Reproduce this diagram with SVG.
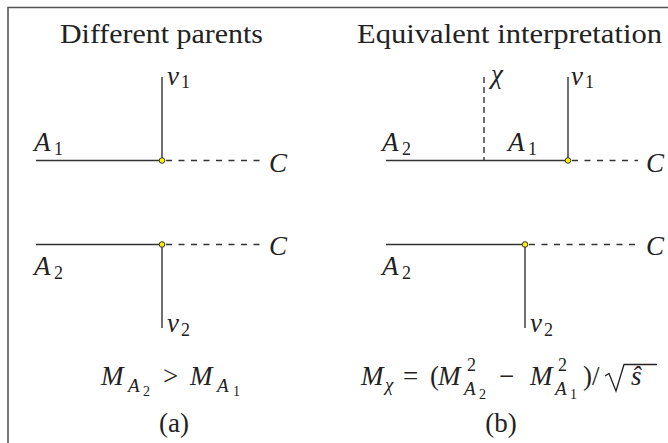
<svg xmlns="http://www.w3.org/2000/svg" width="668" height="443" viewBox="0 0 668 443">
<style>
.t{font-family:"Liberation Serif","Times New Roman",serif;fill:#222;font-size:27px}
.m{font-family:"Liberation Serif","Times New Roman",serif;fill:#222;font-size:27px;font-style:italic}
.s{font-size:18px;font-style:normal}
.si{font-size:19px;font-style:italic}
.ss{font-size:14px;font-style:normal}
.u{font-style:normal}
.ln{stroke:#333;stroke-width:1.4;fill:none}
.dl{stroke:#333;stroke-width:1.4;fill:none;stroke-dasharray:6 6.5}
.dot{fill:#ffee00;stroke:#333;stroke-width:1}
</style>
<rect x="0" y="0" width="668" height="443" fill="#fff"/>
<path d="M8,443 V7.5 H668" stroke="#555" stroke-width="1.6" fill="none"/>

<g id="titles">
<text class="t" x="60" y="43" textLength="203" lengthAdjust="spacingAndGlyphs">Different parents</text>
<text class="t" x="357" y="43" textLength="305" lengthAdjust="spacingAndGlyphs">Equivalent interpretation</text>
</g>

<g id="connectors">
<line class="ln" x1="36" y1="160.5" x2="162" y2="160.5"/>
<line class="ln" x1="162" y1="77" x2="162" y2="160.5"/>
<line class="dl" x1="166" y1="160.5" x2="262" y2="160.5"/>
<line class="ln" x1="36" y1="244.5" x2="162" y2="244.5"/>
<line class="ln" x1="162" y1="244.5" x2="162" y2="328"/>
<line class="dl" x1="166" y1="244.5" x2="262" y2="244.5"/>
<line class="ln" x1="386" y1="160.5" x2="568" y2="160.5"/>
<line class="dl" x1="484" y1="77" x2="484" y2="160.5" style="stroke-dasharray:6 4"/>
<line class="ln" x1="568" y1="77" x2="568" y2="160.5"/>
<line class="dl" x1="572" y1="160.5" x2="638" y2="160.5"/>
<line class="ln" x1="386" y1="244.5" x2="525" y2="244.5"/>
<line class="ln" x1="525" y1="244.5" x2="525" y2="328"/>
<line class="dl" x1="529" y1="244.5" x2="638" y2="244.5"/>
</g>

<g id="vertex-a1"><circle class="dot" cx="162" cy="160.5" r="2.8"/></g>
<g id="vertex-a2"><circle class="dot" cx="162" cy="244.5" r="2.8"/></g>
<g id="vertex-b1"><circle class="dot" cx="568" cy="160.5" r="2.8"/></g>
<g id="vertex-b2"><circle class="dot" cx="525" cy="244.5" r="2.8"/></g>

<g id="labels-a">
<text class="m" x="34" y="151">A<tspan class="s" x="54" y="155">1</tspan></text>
<text class="m" x="167" y="85">v<tspan class="s" x="181" y="88">1</tspan></text>
<text class="m" x="269" y="172">C</text>
<text class="m" x="34" y="275">A<tspan class="s" x="54" y="279">2</tspan></text>
<text class="m" x="167" y="332">v<tspan class="s" x="181" y="336">2</tspan></text>
<text class="m" x="269" y="255">C</text>
</g>

<g id="labels-b">
<text class="m" x="382" y="151">A<tspan class="s" x="402" y="155">2</tspan></text>
<text class="m" x="508" y="151">A<tspan class="s" x="528" y="155">1</tspan></text>
<text class="m" x="491" y="83">χ</text>
<text class="m" x="571" y="85">v<tspan class="s" x="585" y="88">1</tspan></text>
<text class="m" x="646" y="172">C</text>
<text class="m" x="382" y="275">A<tspan class="s" x="402" y="279">2</tspan></text>
<text class="m" x="530" y="332">v<tspan class="s" x="544" y="336">2</tspan></text>
<text class="m" x="646" y="255">C</text>
</g>

<g id="caption-a">
<text class="m" y="385"><tspan x="101">M</tspan><tspan class="si" x="128" y="392">A</tspan><tspan class="ss" x="143" y="396">2</tspan><tspan class="u" x="163" y="385">&gt;</tspan><tspan x="190" y="385">M</tspan><tspan class="si" x="217" y="392">A</tspan><tspan class="ss" x="233" y="396">1</tspan></text>
<text class="t" x="174" y="432" text-anchor="middle">(a)</text>
</g>

<g id="caption-b">
<text class="m" y="385"><tspan x="361">M</tspan><tspan class="si" x="385" y="391">χ</tspan><tspan class="u" x="403" y="385">=</tspan><tspan class="u" x="430" y="385">(</tspan><tspan x="438" y="385">M</tspan><tspan class="s" x="467" y="371">2</tspan><tspan class="si" x="464" y="395">A</tspan><tspan class="ss" x="479" y="399">2</tspan><tspan class="u" x="499" y="385">−</tspan><tspan x="530" y="385">M</tspan><tspan class="s" x="558" y="371">2</tspan><tspan class="si" x="555" y="395">A</tspan><tspan class="ss" x="570" y="399">1</tspan><tspan class="u" x="583" y="385">)</tspan><tspan class="u" x="592" y="385">/</tspan><tspan x="631" y="385">ŝ</tspan></text>
<polyline points="605,376 609,373.5 616,391 624,364.5 657,364.5" fill="none" stroke="#222" stroke-width="1.3" stroke-linejoin="miter"/>
<text class="t" x="501" y="432" text-anchor="middle">(b)</text>
</g>
</svg>
